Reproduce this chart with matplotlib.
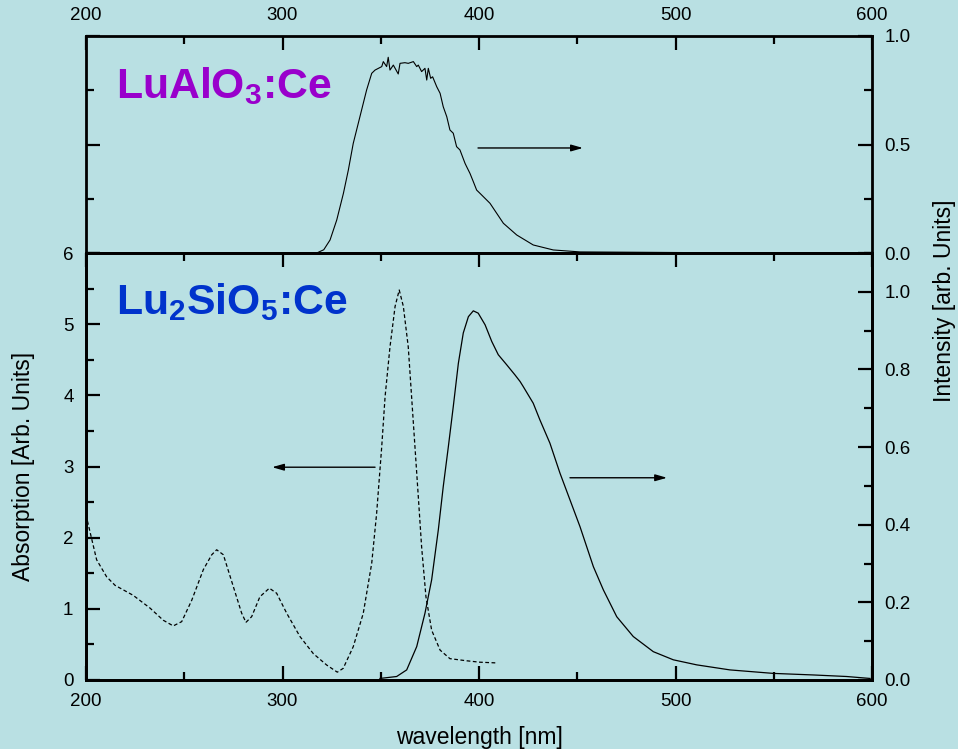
import matplotlib
matplotlib.use("Agg")
import matplotlib.pyplot as plt
from matplotlib.ticker import MultipleLocator, FormatStrFormatter

plt.rcParams['font.family'] = ['Liberation Sans', 'DejaVu Sans']
plt.rcParams['mathtext.fontset'] = 'custom'
plt.rcParams['mathtext.rm'] = 'Liberation Sans:bold'
plt.rcParams['mathtext.it'] = 'Liberation Sans:bold'
plt.rcParams['mathtext.bf'] = 'Liberation Sans:bold'

BG = '#b9e0e3'

# ---- data ----
# Lu2SiO5:Ce absorption (dashed, left axis)
abs_wl = [200, 205.4, 210.5, 214.8, 224, 232.6, 239.3, 244.4, 248.7, 253.8, 259.7, 264, 266.5,
          269.9, 275, 279.2, 281.4, 284.3, 288.5, 293.3, 297, 302.1, 308.9, 315.7, 322.5, 327.9,
          330.9, 336.0, 341.1, 345.4, 347.9, 350.5, 352.2, 354.7, 357.3, 359.4, 361.5, 364.0,
          365.7, 367.4, 369.1, 370.8, 373.0, 375.9, 380.2, 385.2, 393.7, 400.5, 409]
abs_val = [2.32, 1.69, 1.45, 1.33, 1.19, 1.01, 0.84, 0.76, 0.82, 1.12, 1.55, 1.76, 1.83,
           1.76, 1.31, 0.94, 0.81, 0.89, 1.17, 1.29, 1.22, 0.94, 0.61, 0.37, 0.21, 0.11,
           0.164, 0.468, 0.937, 1.64, 2.34, 3.28, 3.98, 4.68, 5.25, 5.48, 5.25, 4.68,
           3.98, 3.28, 2.58, 1.87, 1.17, 0.70, 0.42, 0.30, 0.27, 0.25, 0.24]

# Lu2SiO5:Ce emission (solid, right axis)
em_wl = [349.6, 358.1, 363.2, 368.3, 372.5, 375.9, 379.3, 381.8, 384.4, 386.9, 389.5, 392.0,
         394.6, 397.1, 399.6, 403.1, 406.5, 409.8, 414.1, 418.3, 420.9, 422.5, 427.6, 431,
         436.1, 441.2, 446.3, 451.4, 458.2, 463.3, 470.1, 478.5, 488.7, 498.9, 510.8, 527.7,
         549.8, 570.1, 587.1, 599]
em_val = [0.004, 0.009, 0.026, 0.086, 0.172, 0.258, 0.387, 0.498, 0.601, 0.704, 0.816, 0.894,
          0.936, 0.951, 0.945, 0.915, 0.872, 0.838, 0.812, 0.786, 0.769, 0.756, 0.713, 0.670,
          0.610, 0.533, 0.464, 0.395, 0.292, 0.232, 0.163, 0.112, 0.073, 0.052, 0.039, 0.026,
          0.017, 0.013, 0.009, 0.004]

# LuAlO3:Ce emission (top panel)
top_wl = [270, 317.4, 321, 324.2, 327.6, 331, 333.5, 336, 339.4, 342.8, 345.4, 347.1, 348.8,
          350.5, 351.3, 353.0, 353.8, 354.7, 356.4, 358.9, 359.8, 362.3, 364.0, 366.6, 368.3,
          369.1, 370.8, 372.5, 373.4, 374.2, 375.4, 376.4, 378.5, 380.2, 381.8, 383.6, 385.2,
          386.9, 388.6, 390.3, 392.9, 393.7, 395.4, 397.1, 398.8, 400.5, 405.6, 412.4, 419.2,
          427.6, 437.8, 451.4, 540]
top_val = [0, 0, 0.015, 0.06, 0.152, 0.275, 0.382, 0.505, 0.628, 0.751, 0.828, 0.843, 0.851,
           0.859, 0.882, 0.859, 0.902, 0.843, 0.866, 0.825, 0.874, 0.877, 0.874, 0.882, 0.859,
           0.866, 0.836, 0.851, 0.797, 0.851, 0.805, 0.812, 0.766, 0.736, 0.674, 0.628, 0.567,
           0.552, 0.490, 0.475, 0.413, 0.398, 0.367, 0.329, 0.290, 0.275, 0.229, 0.137, 0.083,
           0.037, 0.014, 0.005, 0]

x_ticks = [200, 300, 400, 500, 600]

# arrows (annotation positions): (x_start, x_end, y)
arrow_top = (399.5, 452.9, 0.484)
arrow_abs = (347.1, 294.7, 2.99)
arrow_em = (446.3, 495.7, 0.521)

# ---- figure ----
fig = plt.figure(figsize=(9.58, 7.49), dpi=100, facecolor=BG)
L, R = 86 / 958, 872 / 958
yb0, yb1 = 1 - 680 / 749, 1 - 253 / 749
yt1 = 1 - 36 / 749

ax_top = fig.add_axes([L, yb1, R - L, yt1 - yb1], facecolor=BG)
ax_bot = fig.add_axes([L, yb0, R - L, yb1 - yb0], facecolor=BG)
ax_bot_r = ax_bot.twinx()

TFS = 13.5
LFS = 16.5

def style(ax):
    for s in ax.spines.values():
        s.set_linewidth(2)
    ax.tick_params(which='major', direction='in', length=10, width=1.6, labelsize=TFS, pad=9)
    ax.tick_params(which='minor', direction='in', length=6, width=1.6)

for ax in (ax_top, ax_bot, ax_bot_r):
    style(ax)

ARROW = dict(arrowstyle='-|>,head_length=0.7,head_width=0.2', color='black', lw=1,
             shrinkA=0, shrinkB=0)

# top panel
ax_top.plot(top_wl, top_val, color='black', lw=0.8)
ax_top.set_xlim(200, 600)
ax_top.set_ylim(0, 1.0)
ax_top.set_xticks(x_ticks)
ax_top.xaxis.set_minor_locator(MultipleLocator(50))
ax_top.yaxis.set_major_locator(MultipleLocator(0.5))
ax_top.yaxis.set_minor_locator(MultipleLocator(0.25))
ax_top.yaxis.set_major_formatter(FormatStrFormatter('%.1f'))
ax_top.tick_params(axis='x', which='both', top=True, bottom=False, labeltop=True, labelbottom=False)
ax_top.tick_params(axis='y', which='both', left=True, right=True, labelleft=False, labelright=True)
ax_top.text(0.038, 0.716, 'LuAlO$_3$:Ce', transform=ax_top.transAxes, fontsize=30.8,
            fontweight='bold', color='#9900cc')
ax_top.annotate('', xy=(arrow_top[1], arrow_top[2]), xytext=(arrow_top[0], arrow_top[2]),
                arrowprops=ARROW)

# bottom panel
ax_bot.plot(abs_wl, abs_val, color='black', lw=0.9, dashes=(3, 2))
ax_bot.set_xlim(200, 600)
ax_bot.set_ylim(0, 6)
ax_bot.set_xticks(x_ticks)
ax_bot.xaxis.set_minor_locator(MultipleLocator(50))
ax_bot.yaxis.set_major_locator(MultipleLocator(1))
ax_bot.yaxis.set_minor_locator(MultipleLocator(0.5))
ax_bot.tick_params(axis='x', which='both', top=True, bottom=True, labeltop=False, labelbottom=True)
ax_bot.tick_params(axis='y', which='both', left=True, right=False)
ax_bot.set_xlabel('wavelength [nm]', fontsize=LFS)
ax_bot.set_ylabel('Absorption [Arb. Units]', fontsize=LFS)
ax_bot.xaxis.set_label_coords(0.5, -0.1335)
ax_bot.yaxis.set_label_coords(-0.079, 0.5)
ax_bot.xaxis.label.set_va('center')
ax_bot.yaxis.label.set_va('center')
ax_bot.text(0.038, 0.856, 'Lu$_2$SiO$_5$:Ce', transform=ax_bot.transAxes, fontsize=30.8,
            fontweight='bold', color='#0033cc')
ax_bot.annotate('', xy=(arrow_abs[1], arrow_abs[2]), xytext=(arrow_abs[0], arrow_abs[2]),
                arrowprops=ARROW)

ax_bot_r.plot(em_wl, em_val, color='black', lw=0.9)
ax_bot_r.set_ylim(0, 1.1)
ax_bot_r.yaxis.set_major_locator(MultipleLocator(0.2))
ax_bot_r.yaxis.set_minor_locator(MultipleLocator(0.1))
ax_bot_r.yaxis.set_major_formatter(FormatStrFormatter('%.1f'))
ax_bot_r.annotate('', xy=(arrow_em[1], arrow_em[2]), xytext=(arrow_em[0], arrow_em[2]),
                  arrowprops=ARROW)

fig.text(945 / 958, 1 - 301 / 749, 'Intensity [arb. Units]', rotation=90, fontsize=LFS,
         ha='center', va='center')

fig.savefig('out.png', dpi=100, facecolor=BG)
